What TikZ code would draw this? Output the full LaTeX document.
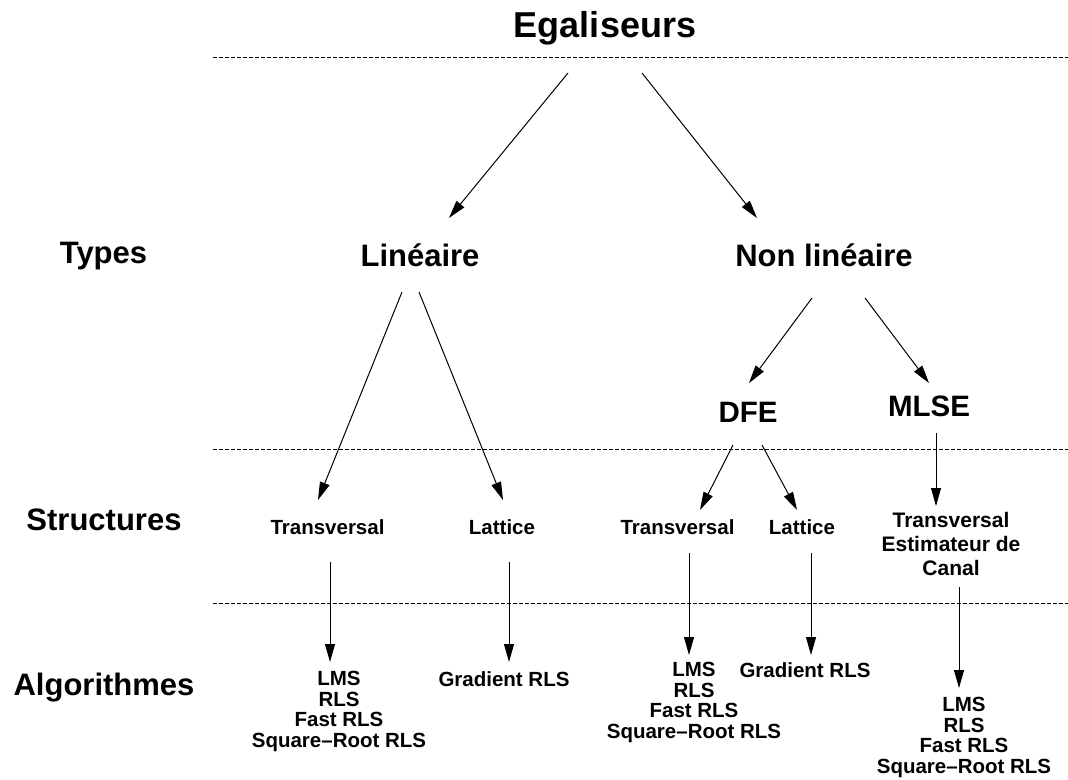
\documentclass[tikz,border=0pt]{standalone}
\usepackage{fontspec}
\setmainfont{Liberation Sans}
\usetikzlibrary{arrows.meta}
\begin{document}
\begin{tikzpicture}[x=1pt,y=-1pt,
  title/.style={font=\bfseries\fontsize{36}{40}\selectfont, anchor=base, inner sep=0pt},
  level/.style={font=\bfseries\fontsize{31}{36}\selectfont, anchor=base, inner sep=0pt},
  sub/.style={font=\bfseries\fontsize{29.5}{34}\selectfont, anchor=base, inner sep=0pt},
  small/.style={font=\bfseries\fontsize{20.5}{20.5}\selectfont, inner sep=0pt, align=center},
  smallb/.style={small, anchor=base},
  sep/.style={dash pattern=on 4pt off 2pt, line width=0.9pt},
  arr/.style={-{Triangle[length=18pt,width=10pt]}, line width=1pt},
]
\useasboundingbox (0,0) rectangle (1068,779);

% level separators
\foreach \yy in {57,449,603}
  \draw[sep] (213,\yy) -- (1068,\yy);

% root and level names
\node[title] (ega) at (605,37) {Egaliseurs};
\node[level] (types) at (103.5,263) {Types};
\node[level] (struct) at (104,530) {Structures};
\node[level] (algo) at (104,695) {Algorithmes};

% types
\node[level] (lin) at (420,266) {Linéaire};
\node[level] (nlin) at (824,266) {Non linéaire};
\node[sub] (dfe) at (748,422) {DFE};
\node[sub] (mlse) at (929,416) {MLSE};

% structures
\node[smallb] (tr1) at (327.5,534) {Transversal};
\node[smallb] (la1) at (502,534) {Lattice};
\node[smallb] (tr2) at (677.5,534) {Transversal};
\node[smallb] (la2) at (802,534) {Lattice};
\node[small, anchor=north, font=\bfseries\fontsize{21}{24}\selectfont] (est) at (951,512)
  {Transversal\\Estimateur de\\Canal};

% algorithms
\node[small, anchor=north] (al1) at (339,671) {LMS\\RLS\\Fast RLS\\Square--Root RLS};
\node[smallb] (gr1) at (504,686) {Gradient RLS};
\node[small, anchor=north] (al2) at (694,662) {LMS\\RLS\\Fast RLS\\Square--Root RLS};
\node[smallb] (gr2) at (805,677) {Gradient RLS};
\node[small, anchor=north] (al3) at (964,697) {LMS\\RLS\\Fast RLS\\Square--Root RLS};

% connector end points
\coordinate (ega-a) at (568,73);   \coordinate (lin-in) at (449,218);
\coordinate (ega-b) at (642,73);   \coordinate (nlin-in) at (757,218);
\coordinate (lin-a) at (402,292);  \coordinate (tr1-in) at (318,500);
\coordinate (lin-b) at (419,292);  \coordinate (la1-in) at (503,500);
\coordinate (nlin-a) at (812,298); \coordinate (dfe-in) at (749,383);
\coordinate (nlin-b) at (865,298); \coordinate (mlse-in) at (929,383);
\coordinate (dfe-a) at (733,445);  \coordinate (tr2-in) at (700,510);
\coordinate (dfe-b) at (762,445);  \coordinate (la2-in) at (797,510);
\coordinate (mlse-a) at (936,433); \coordinate (est-in) at (936,506);
\coordinate (tr1-a) at (330,562);  \coordinate (al1-in) at (330,662);
\coordinate (la1-a) at (509,562);  \coordinate (gr1-in) at (509,662);
\coordinate (tr2-a) at (689,553);  \coordinate (al2-in) at (689,655);
\coordinate (la2-a) at (811,553);  \coordinate (gr2-in) at (811,655);
\coordinate (est-a) at (959,587);  \coordinate (al3-in) at (959,688);

% connectors
\foreach \s/\t in {ega-a/lin-in, ega-b/nlin-in, lin-a/tr1-in, lin-b/la1-in,
    nlin-a/dfe-in, nlin-b/mlse-in, dfe-a/tr2-in, dfe-b/la2-in, mlse-a/est-in,
    tr1-a/al1-in, la1-a/gr1-in, tr2-a/al2-in, la2-a/gr2-in, est-a/al3-in}
  \draw[arr] (\s) -- (\t);
\end{tikzpicture}
\end{document}
